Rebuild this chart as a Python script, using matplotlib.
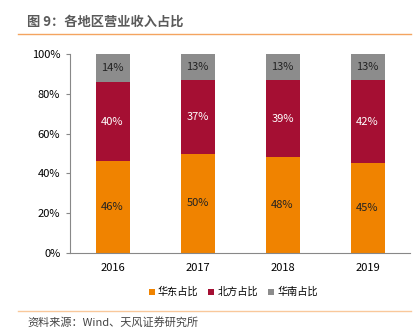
import numpy as np
import matplotlib.pyplot as plt
from matplotlib.lines import Line2D

plt.rcParams['font.family'] = ['Noto Sans CJK SC', 'DejaVu Sans']

years = ['2016', '2017', '2018', '2019']
east = [46, 50, 48, 45]
north = [40, 37, 39, 42]
south = [14, 13, 13, 13]
names = ['华东占比', '北方占比', '华南占比']
colors = ['#F08300', '#A50F33', '#8C8C8C']
txt_colors = ['#222222', 'white', '#222222']

fig = plt.figure(figsize=(4.15, 3.33), dpi=100)
ax = fig.add_axes([70/415, 1-253/333, 340/415, 199/333])

x = np.arange(len(years))
bottom = np.zeros(len(years))
for vals, c, tc, nm in zip([east, north, south], colors, txt_colors, names):
    vals = np.array(vals, dtype=float)
    ax.bar(x, vals, 0.4, bottom=bottom, color=c, label=nm)
    for xi, b, v in zip(x, bottom, vals):
        ax.text(xi, b + v/2, f'{int(v)}%', ha='center', va='center',
                fontsize=8, color=tc)
    bottom += vals

ax.set_xlim(-0.5, 3.5)
ax.set_ylim(0, 100)
ax.set_yticks(np.arange(0, 101, 20))
ax.set_yticklabels([f'{v}%' for v in range(0, 101, 20)])
ax.set_xticks(x)
ax.set_xticklabels(years)
ax.tick_params(axis='y', labelsize=8, length=3, color='#888888', pad=4)
ax.tick_params(axis='x', labelsize=8, length=0, pad=7)
for s in ['top', 'right']:
    ax.spines[s].set_visible(False)
ax.spines['left'].set_color('#888888')
ax.spines['bottom'].set_color('#888888')

ax.legend(loc='upper center', bbox_to_anchor=(0.48, -0.125), ncol=3, frameon=False,
          handlelength=0.6, handleheight=0.6, handletextpad=0.3,
          columnspacing=1.0, prop={'size': 7.3})

fig.text(27/415, 1-22/333, '图 9：各地区营业收入占比', fontsize=9.5, fontweight='bold',
         color='#5a5a5a', va='center')
fig.add_artist(Line2D([18/415, 411/415], [1-34/333, 1-34/333], color='#F4A460', lw=1))
fig.add_artist(Line2D([18/415, 411/415], [1-311/333, 1-311/333], color='#F9C89B', lw=1))
fig.text(27/415, 1-322/333, '资料来源：Wind、天风证券研究所', fontsize=8,
         color='#444444', va='center')

fig.savefig('out.png', dpi=100)
